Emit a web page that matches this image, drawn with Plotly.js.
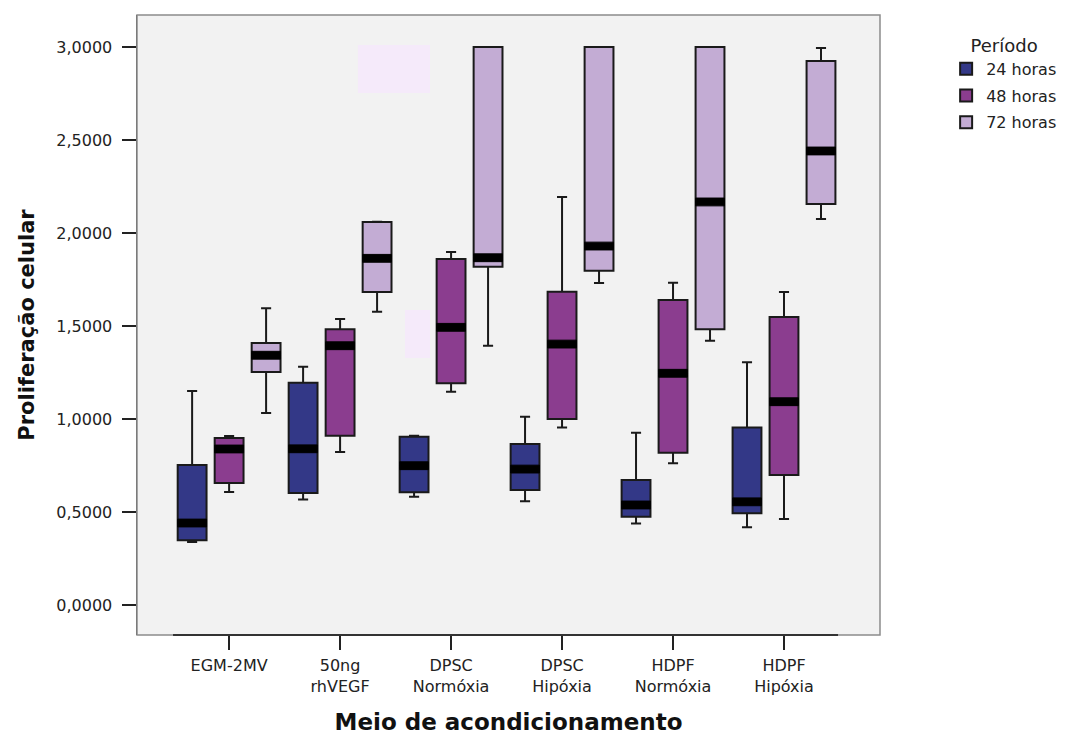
<!DOCTYPE html>
<html>
<head>
<meta charset="utf-8">
<script src="https://cdn.plot.ly/plotly-3.0.1.min.js"></script>
<style>html,body{margin:0;padding:0;background:#fff;}#chart{width:1074px;height:738px;}</style>
</head>
<body>
<div id="chart"></div>
<script>
const categories = ["EGM-2MV", "50ng<br>rhVEGF", "DPSC<br>Normóxia", "DPSC<br>Hipóxia", "HDPF<br>Normóxia", "HDPF<br>Hipóxia"];
const seriesNames = ["24 horas", "48 horas", "72 horas"];

// 24 horas
const q1_24 = [0.349, 0.602, 0.606, 0.618, 0.475, 0.493];
const med_24 = [0.441, 0.840, 0.749, 0.731, 0.538, 0.555];
const q3_24 = [0.753, 1.195, 0.905, 0.866, 0.672, 0.955];
const lo_24 = [0.339, 0.568, 0.582, 0.558, 0.439, 0.418];
const hi_24 = [1.151, 1.281, 0.910, 1.012, 0.926, 1.305];

// 48 horas
const q1_48 = [0.656, 0.910, 1.193, 1.000, 0.819, 0.699];
const med_48 = [0.839, 1.394, 1.493, 1.403, 1.246, 1.093];
const q3_48 = [0.898, 1.482, 1.860, 1.684, 1.640, 1.548];
const lo_48 = [0.608, 0.823, 1.146, 0.955, 0.762, 0.462];
const hi_48 = [0.909, 1.538, 1.898, 2.194, 1.733, 1.683];

// 72 horas
const q1_72 = [1.253, 1.683, 1.819, 1.797, 1.482, 2.156];
const med_72 = [1.343, 1.864, 1.867, 1.930, 2.167, 2.441];
const q3_72 = [1.409, 2.059, 3.000, 3.000, 3.000, 2.925];
const lo_72 = [1.032, 1.577, 1.394, 1.731, 1.421, 2.075];
const hi_72 = [1.596, 2.060, 3.000, 3.000, 3.000, 2.995];

const yTicks = [0, 0.5, 1.0, 1.5, 2.0, 2.5, 3.0];

const colors = ["#333887", "#8b3d8f", "#c3acd4"];
const groups = [
  {q1: q1_24, med: med_24, q3: q3_24, lo: lo_24, hi: hi_24},
  {q1: q1_48, med: med_48, q3: q3_48, lo: lo_48, hi: hi_48},
  {q1: q1_72, med: med_72, q3: q3_72, lo: lo_72, hi: hi_72}
];

const FONT = 'DejaVu Sans, Verdana, sans-serif';
const bandHalf = 0.021;
const traces = [];
groups.forEach((g, i) => {
  traces.push({
    type: 'box', name: seriesNames[i], x: categories,
    q1: g.q1, median: g.med, q3: g.q3, lowerfence: g.lo, upperfence: g.hi,
    offsetgroup: 'g' + i, legendgroup: 'g' + i, fillcolor: colors[i],
    line: {color: '#1a1a1a', width: 2}, whiskerwidth: 0.35,
    hoverinfo: 'skip'
  });
});
groups.forEach((g, i) => {
  const lo = g.med.map(v => v - bandHalf);
  const hi = g.med.map(v => v + bandHalf);
  traces.push({
    type: 'box', name: seriesNames[i] + ' mediana', x: categories,
    q1: lo, median: g.med, q3: hi, lowerfence: lo, upperfence: hi,
    offsetgroup: 'g' + i, legendgroup: 'g' + i, fillcolor: '#000000',
    line: {color: '#000000', width: 1}, whiskerwidth: 0,
    showlegend: false, hoverinfo: 'skip'
  });
});

const layout = {
  width: 1074, height: 738,
  margin: {l: 137, r: 194, t: 15, b: 103},
  paper_bgcolor: '#ffffff', plot_bgcolor: '#f2f2f2',
  separators: ',.',
  font: {family: FONT, color: '#222', size: 16},
  boxmode: 'group', boxgap: 0, boxgroupgap: 0.22,
  showlegend: true,
  legend: {
    x: 1.089, y: 0.9785, xanchor: 'left', yanchor: 'top',
    title: {text: 'Período', side: 'top center', font: {size: 18, color: '#222', family: FONT}},
    font: {size: 16, color: '#222', family: FONT}, tracegroupgap: 3, itemwidth: 30,
    bgcolor: 'rgba(0,0,0,0)'
  },
  xaxis: {
    type: 'category', range: [-0.83, 5.865],
    showgrid: false, zeroline: false, showline: false,
    ticks: 'outside', ticklen: 14, tickwidth: 1.5, tickcolor: '#222',
    ticklabelstandoff: 2,
    tickfont: {size: 16, color: '#222', family: FONT},
    title: {text: 'Meio de acondicionamento', font: {size: 23, color: '#111', family: FONT, weight: 'bold'}, standoff: 18}
  },
  yaxis: {
    range: [-0.161, 3.172],
    tickvals: yTicks, tickformat: '.4f',
    showgrid: false, zeroline: false,
    showline: true, linecolor: '#444', linewidth: 1.5,
    ticks: 'outside', ticklen: 14, tickwidth: 1.5, tickcolor: '#222',
    ticklabelstandoff: 6,
    tickfont: {size: 16, color: '#222', family: FONT},
    title: {text: 'Proliferação celular', font: {size: 21, color: '#111', family: FONT, weight: 'bold'}, standoff: 16}
  },
  shapes: [
    {type: 'rect', xref: 'paper', yref: 'paper', x0: 0, x1: 1, y0: 0, y1: 1, line: {color: '#8c8c8c', width: 1.5}, layer: 'above'},
    {type: 'line', xref: 'paper', yref: 'paper', x0: 0.0485, x1: 0.9435, y0: 0, y1: 0, line: {color: '#333', width: 2}, layer: 'above'},
    {type: 'rect', xref: 'x', yref: 'y', x0: 1.161, x1: 1.810, y0: 2.753, y1: 3.011, fillcolor: '#f5eafa', line: {width: 0}, layer: 'below'},
    {type: 'rect', xref: 'x', yref: 'y', x0: 1.585, x1: 1.810, y0: 1.328, y1: 1.586, fillcolor: '#f5eafa', line: {width: 0}, layer: 'below'}
  ]
};

Plotly.newPlot('chart', traces, layout, {displayModeBar: false, staticPlot: true});
</script>
</body>
</html>
